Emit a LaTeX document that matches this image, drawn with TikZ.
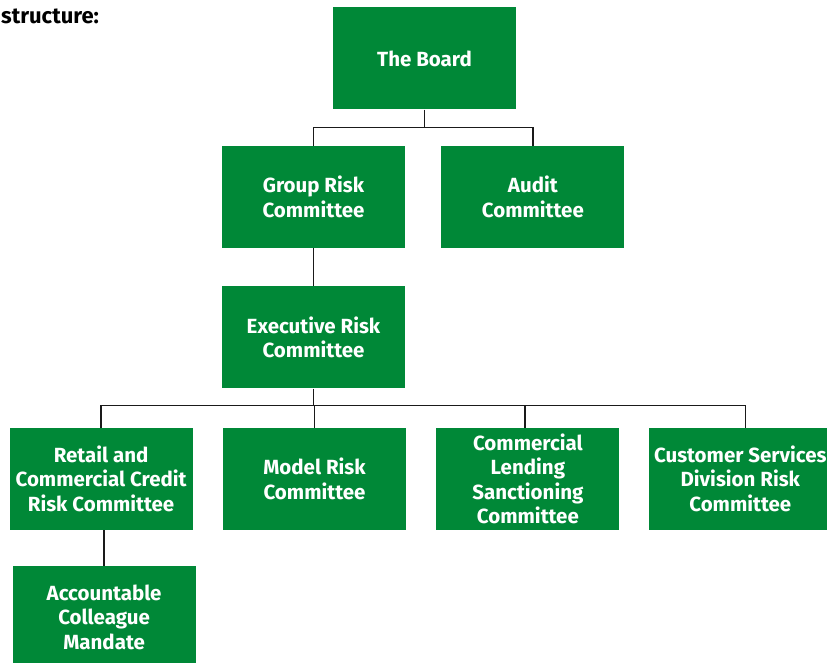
\documentclass[tikz,border=0pt]{standalone}
\usepackage{fontspec}
\setmainfont{Fira Sans}
\usepackage{tikz}
\usetikzlibrary{
  positioning,
  calc
}
\definecolor{rcGreen}{HTML}{008837}
\definecolor{rcLine}{HTML}{1A1A1A}
\tikzset{
  rcnode/.style={
    fill=rcGreen, text=white, minimum width=183pt, minimum height=102pt,
    font=\fontsize{20.5}{24.5}\selectfont\bfseries, align=center, inner sep=2pt
  },
  rcline/.style={line width=1.3pt, rcLine},
  heading/.style={font=\fontsize{22}{24}\selectfont\bfseries, inner sep=0pt}
}

\begin{document}
\begin{tikzpicture}[x=1pt, y=-1pt, node distance=37pt and 30pt]
  \useasboundingbox (0,0) rectangle (827,663);
  \node[heading, anchor=base west] (title) at (1,24) {structure:};
  % top levels
  \node[rcnode] (board) at (424.5,58.5) {The Board};
  \node[rcnode] (group) at (313.5,197) {Group Risk\\Committee};
  \node[rcnode, right=36pt of group] (audit) {Audit\\Committee};
  \node[rcnode, below=38pt of group] (exec) {Executive Risk\\Committee};
  % committees under the executive
  \node[rcnode, below=39pt of exec, xshift=1pt] (model) {Model Risk\\Committee};
  \node[rcnode, left=30pt of model] (retail) {Retail and\\Commercial Credit\\Risk Committee};
  \node[rcnode, right=30pt of model] (lending) {Commercial\\Lending\\Sanctioning\\Committee};
  \node[rcnode, right=29pt of lending] (customer) {Customer Services\\Division Risk\\Committee};
  \node[rcnode, below=36pt of retail, xshift=3pt] (mandate) {Accountable\\Colleague\\Mandate};

  % connectors
  \coordinate (boardjoin) at ($(board.south)+(0,18)$);
  \draw[rcline] (board.south) -- (boardjoin);
  \draw[rcline] (group.north) |- (boardjoin) -| (audit.north);
  \draw[rcline] (group.south) -- (exec.north);
  \coordinate (execjoin) at ($(exec.south)+(0,17)$);
  \coordinate (lendingtop) at ($(lending.north)+(-3,0)$);
  \coordinate (customertop) at ($(customer.north)+(5,0)$);
  \draw[rcline] (exec.south) -- (execjoin);
  \draw[rcline] (retail.north) |- (execjoin) -| (customertop);
  \draw[rcline] (execjoin -| model.north) -- (model.north);
  \draw[rcline] (execjoin -| lendingtop) -- (lendingtop);
  \draw[rcline] (mandate.north |- retail.south) -- (mandate.north);
\end{tikzpicture}
\end{document}
